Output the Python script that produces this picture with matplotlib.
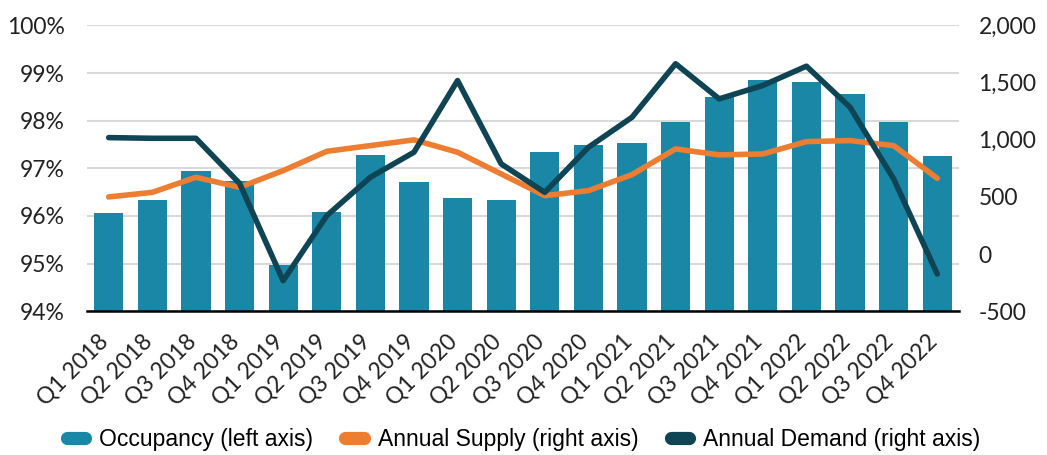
import numpy as np
import matplotlib.pyplot as plt
import matplotlib.transforms as mtransforms
from matplotlib.lines import Line2D
from matplotlib.ticker import FuncFormatter

# quarters on the x axis
quarters = ["Q1 2018", "Q2 2018", "Q3 2018", "Q4 2018",
            "Q1 2019", "Q2 2019", "Q3 2019", "Q4 2019",
            "Q1 2020", "Q2 2020", "Q3 2020", "Q4 2020",
            "Q1 2021", "Q2 2021", "Q3 2021", "Q4 2021",
            "Q1 2022", "Q2 2022", "Q3 2022", "Q4 2022"]

# occupancy in percent (left axis)
occupancy = [96.06, 96.33, 96.95, 96.73, 94.97, 96.08, 97.27, 96.71, 96.37, 96.34,
             97.35, 97.49, 97.53, 97.97, 98.50, 98.85, 98.82, 98.56, 97.98, 97.26]

# annual supply and demand in units (right axis)
supply = [500, 540, 672, 584, 730, 899, 949, 999, 891, 701,
          511, 555, 695, 920, 868, 876, 984, 993, 949, 663]
demand = [1019, 1013, 1013, 619, -233, 336, 672, 891, 1518, 789,
          540, 934, 1197, 1665, 1358, 1475, 1644, 1285, 658, -174]

bar_color = "#1A87A6"
supply_color = "#ED7D31"
demand_color = "#0E4453"
text_color = "#222222"

fig = plt.figure(figsize=(10.47, 4.55), dpi=100)
ax = fig.add_axes([0.083, 0.316, 0.833, 0.628])
ax2 = ax.twinx()

x = np.arange(len(quarters))

# bars for occupancy
ax.bar(x, occupancy, width=0.67, color=bar_color, zorder=2)
ax.set_ylim(94, 100)
ax.set_yticks(np.arange(94, 101, 1))
ax.yaxis.set_major_formatter(FuncFormatter(lambda v, p: f"{v:.0f}%"))
ax.grid(axis="y", color="#D9D9D9", linewidth=1.5, zorder=0)
ax.set_axisbelow(True)
ax.set_xlim(-0.5, len(quarters) - 0.5)

# lines on the right axis
ax2.plot(x, supply, color=supply_color, linewidth=4, solid_capstyle="round",
         solid_joinstyle="round", zorder=3)
ax2.plot(x, demand, color=demand_color, linewidth=4, solid_capstyle="round",
         solid_joinstyle="round", zorder=4)
ax2.set_ylim(-500, 2000)
ax2.set_yticks(np.arange(-500, 2001, 500))
ax2.yaxis.set_major_formatter(FuncFormatter(lambda v, p: f"{v:,.0f}"))

# only the bottom axis line is shown
for a in (ax, ax2):
    for side in ("top", "left", "right", "bottom"):
        a.spines[side].set_visible(False)
ax.spines["bottom"].set_visible(True)
ax.spines["bottom"].set_color("black")
ax.spines["bottom"].set_linewidth(1.8)
ax.spines["bottom"].set_zorder(5)

ax.tick_params(axis="y", length=0, pad=16, labelsize=16.5, colors=text_color)
ax2.tick_params(axis="y", length=0, pad=14, labelsize=16.5, colors=text_color)
ax.set_xticks(x)
ax.set_xticklabels(quarters, rotation=45, ha="right", rotation_mode="anchor",
                   fontsize=16.5, color=text_color)
ax.tick_params(axis="x", length=0, pad=14)

# nudge the rotated labels a bit to the left
shift = mtransforms.ScaledTranslation(-11 / 100, 0, fig.dpi_scale_trans)
for lab in ax.get_xticklabels():
    lab.set_transform(lab.get_transform() + shift)

for lab in ax.get_yticklabels() + ax2.get_yticklabels() + ax.get_xticklabels():
    lab.set_family(["Lato", "DejaVu Sans"])

# legend with rounded swatches
handles = [
    Line2D([0], [0], color=bar_color, linewidth=9.5, solid_capstyle="round"),
    Line2D([0], [0], color=supply_color, linewidth=9.5, solid_capstyle="round"),
    Line2D([0], [0], color=demand_color, linewidth=9.5, solid_capstyle="round"),
]
labels = ["Occupancy (left axis)", "Annual Supply (right axis)", "Annual Demand (right axis)"]
fig.legend(handles, labels, loc="center", bbox_to_anchor=(0.5, 0.035), ncol=3,
           frameon=False, handlelength=0.8, columnspacing=1.4, handletextpad=0.62,
           prop={"family": "Liberation Sans", "size": 16.5})

fig.savefig("out.png", dpi=100)
